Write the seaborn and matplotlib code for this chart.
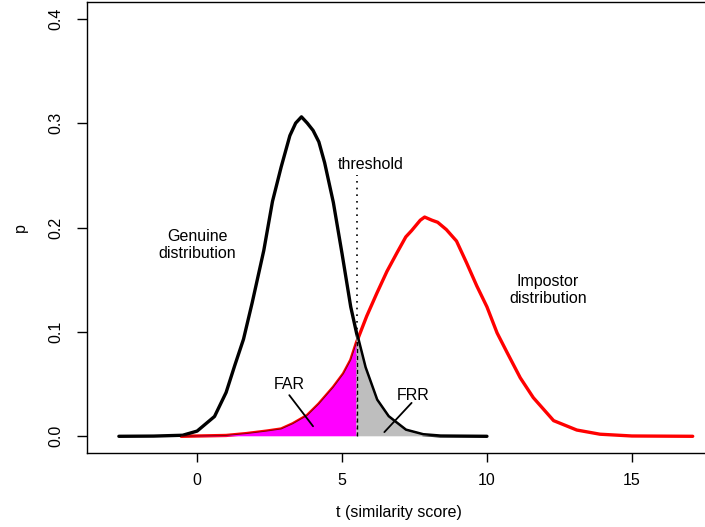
import numpy as np
import pandas as pd
import matplotlib
matplotlib.use("Agg")
import matplotlib.pyplot as plt
import seaborn as sns

# ---- data ----
genuine_x = [-2.7, -1.5, -0.5, 0.0, 0.6, 1.0, 1.3, 1.6, 1.9, 2.3, 2.6, 2.9, 3.2, 3.4,
             3.6, 3.8, 4.0, 4.2, 4.4, 4.7, 5.0, 5.3, 5.5, 5.8, 6.2, 6.6, 7.2, 7.8, 8.4, 10.0]
genuine_y = [0.0, 0.0002, 0.001, 0.005, 0.019, 0.042, 0.068, 0.093, 0.128, 0.178, 0.225,
             0.258, 0.288, 0.300, 0.306, 0.300, 0.293, 0.282, 0.262, 0.224, 0.175, 0.124,
             0.099, 0.066, 0.035, 0.019, 0.006, 0.0016, 0.0003, 0.0]

impostor_x = [-0.55, 1.0, 1.7, 2.4, 2.9, 3.3, 3.8, 4.2, 4.7, 5.05, 5.3, 5.5, 5.85, 6.2,
              6.55, 6.9, 7.2, 7.4, 7.7, 7.85, 8.1, 8.3, 8.6, 8.95, 9.3, 9.65, 10.0, 10.35,
              10.7, 11.15, 11.6, 12.3, 13.1, 13.9, 15.0, 17.1]
impostor_y = [0.0, 0.0008, 0.0026, 0.005, 0.007, 0.012, 0.020, 0.031, 0.047, 0.060, 0.073,
              0.090, 0.115, 0.137, 0.158, 0.176, 0.191, 0.197, 0.207, 0.210, 0.207, 0.205,
              0.198, 0.187, 0.166, 0.144, 0.124, 0.099, 0.080, 0.056, 0.037, 0.015, 0.006,
              0.002, 0.0003, 0.0]

threshold = 5.5
threshold_top = 0.25
x_ticks = [0, 5, 10, 15]
y_ticks = [0.0, 0.1, 0.2, 0.3, 0.4]
y_tick_labels = ["0.0", "0.1", "0.2", "0.3", "0.4"]

# ---- styling ----
sns.set_style("white")
plt.rcParams["font.family"] = ["Liberation Sans", "DejaVu Sans"]
plt.rcParams["text.color"] = "black"
plt.rcParams["xtick.color"] = "black"
plt.rcParams["ytick.color"] = "black"
plt.rcParams["axes.labelcolor"] = "black"
FS = 11.5

fig = plt.figure(figsize=(7.05, 5.27), dpi=100)
ax = fig.add_axes([87 / 705, 1 - 453 / 527, (713 - 87) / 705, (453 - 2) / 527])

gen = pd.DataFrame({"t": genuine_x, "p": genuine_y})
imp = pd.DataFrame({"t": impostor_x, "p": impostor_y})

sns.lineplot(data=imp, x="t", y="p", color="#ff0000", lw=2.4, sort=False, ax=ax, zorder=2)
sns.lineplot(data=gen, x="t", y="p", color="black", lw=2.4, sort=False, ax=ax, zorder=3)

# shaded regions (FAR under impostor left of threshold, FRR under genuine right of it)
imp_x = np.array(impostor_x); imp_y = np.array(impostor_y)
gen_x = np.array(genuine_x); gen_y = np.array(genuine_y)
imp_at_t = np.interp(threshold, imp_x, imp_y)
gen_at_t = np.interp(threshold, gen_x, gen_y)

far_top_x = np.concatenate([imp_x[imp_x < threshold], [threshold]])
far_top_y = np.concatenate([imp_y[imp_x < threshold], [imp_at_t]])
frr_top_x = np.concatenate([[threshold], gen_x[gen_x > threshold]])
frr_top_y = np.concatenate([[gen_at_t], gen_y[gen_x > threshold]])

ax.plot([threshold, threshold], [0, threshold_top], color="black", ls=(0, (1, 3)), lw=1.2, zorder=1)
ax.fill_between(far_top_x, 0, far_top_y, facecolor="#ff00ff", edgecolor="none", lw=0, zorder=4)
ax.fill_between(frr_top_x, 0, frr_top_y, facecolor="#bebebe", edgecolor="none", lw=0, zorder=4)
ax.plot(far_top_x, far_top_y, color="#8b0000", lw=0.7, zorder=5)
ax.plot(frr_top_x, frr_top_y, color="black", lw=1.2, zorder=5)
ax.plot([threshold, threshold], [0, max(imp_at_t, gen_at_t)], color="black", ls=(0, (3, 2)), lw=1.0, zorder=5)

# annotations
ax.text(0.0, 0.183, "Genuine\ndistribution", ha="center", va="center", fontsize=FS, linespacing=1.15)
ax.text(12.1, 0.140, "Impostor\ndistribution", ha="center", va="center", fontsize=FS, linespacing=1.15)
ax.text(6.0, 0.2606, "threshold", ha="center", va="center", fontsize=FS)
ax.text(3.17, 0.0497, "FAR", ha="center", va="center", fontsize=FS)
ax.text(7.46, 0.0388, "FRR", ha="center", va="center", fontsize=FS)
ax.plot([3.18, 4.0], [0.0394, 0.0096], color="black", lw=1.3, zorder=6)
ax.plot([7.40, 6.46], [0.032, 0.004], color="black", lw=1.3, zorder=6)

# axes
ax.set_xlim(-3.8, 17.8)
ax.set_ylim(-0.016, 0.416)
ax.set_xticks(x_ticks)
ax.set_xticklabels([str(v) for v in x_ticks], fontsize=FS)
ax.set_yticks(y_ticks)
ax.set_yticklabels(y_tick_labels, fontsize=FS, rotation=90, va="center")
ax.tick_params(axis="x", direction="out", length=6.5, width=1, color="black", pad=8, bottom=True)
ax.tick_params(axis="y", direction="out", length=7, width=1, color="black", pad=10, left=True)
ax.set_xlabel("")
ax.set_ylabel("")
for s in ax.spines.values():
    s.set_visible(True)
    s.set_color("black")
    s.set_linewidth(1.0)

fig.text(399 / 705, 1 - 512 / 527, "t (similarity score)", ha="center", va="center", fontsize=FS)
fig.text(20 / 705, 1 - 228 / 527, "p", ha="center", va="center", fontsize=FS, rotation=90)

fig.savefig("out.png", dpi=100)
